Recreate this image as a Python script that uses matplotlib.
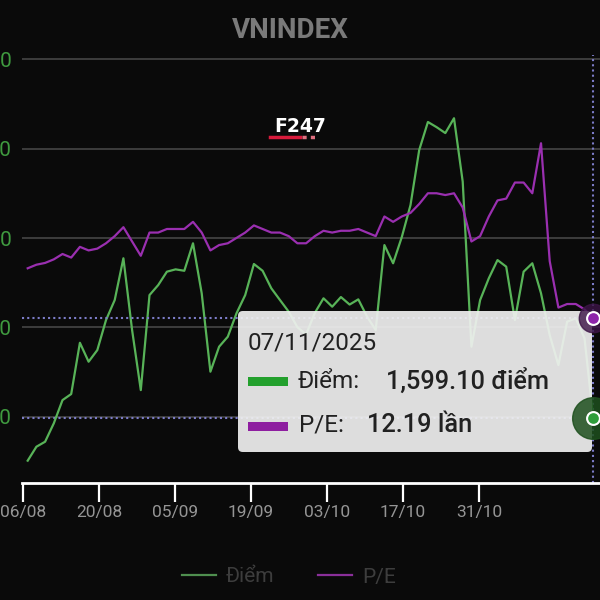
import numpy as np
import matplotlib.pyplot as plt
from matplotlib.patches import FancyBboxPatch, Rectangle
from matplotlib.lines import Line2D

plt.rcParams['font.family'] = ['Roboto', 'DejaVu Sans']

# data (one point per trading day, 06/08 -> 07/11/2025)
diem = [1575.3, 1583.1, 1585.9, 1596.2, 1609.2, 1612.6, 1641.3, 1630.7, 1637.2, 1654.0,
        1665.2, 1688.6, 1648.4, 1614.8, 1668.0, 1673.6, 1681.1, 1682.4, 1681.6, 1697.0,
        1669.0, 1625.1, 1639.1, 1644.7, 1657.8, 1668.0, 1685.4, 1681.6, 1671.8, 1665.2,
        1658.7, 1650.0, 1646.0, 1658.0, 1666.2, 1661.5, 1666.9, 1662.7, 1665.6, 1656.0,
        1648.4, 1696.0, 1685.8, 1700.5, 1718.4, 1749.2, 1764.9, 1762.0, 1758.7, 1767.0,
        1731.5, 1639.1, 1665.2, 1677.4, 1687.6, 1683.9, 1654.0, 1681.1, 1685.8, 1669.0,
        1645.6, 1628.8, 1653.1, 1655.0, 1643.8, 1599.1]
pe = [12.47, 12.49, 12.50, 12.52, 12.55, 12.53, 12.59, 12.57, 12.58, 12.61,
      12.65, 12.70, 12.62, 12.54, 12.67, 12.67, 12.69, 12.69, 12.69, 12.73,
      12.67, 12.57, 12.60, 12.61, 12.64, 12.67, 12.71, 12.69, 12.67, 12.67,
      12.65, 12.61, 12.61, 12.65, 12.68, 12.67, 12.68, 12.68, 12.69, 12.67,
      12.65, 12.76, 12.73, 12.76, 12.78, 12.83, 12.89, 12.89, 12.88, 12.89,
      12.81, 12.62, 12.65, 12.76, 12.85, 12.86, 12.95, 12.95, 12.89, 13.17,
      12.51, 12.25, 12.27, 12.27, 12.24, 12.19]
x_labels = ['06/08', '20/08', '05/09', '19/09', '03/10', '17/10', '31/10']
y_ticks = [1600, 1650, 1700, 1750, 1800]
sel_date = '07/11/2025'

W = H = 600
def fx(px):
    return px / W
def fy(py):
    return 1 - py / H

BG = '#0a0a0a'
GREEN = '#58b358'
PURPLE = '#9a2fb0'
CROSS = '#7c7cc8'

fig = plt.figure(figsize=(6, 6), dpi=100, facecolor=BG)
ax = fig.add_axes([fx(22), fy(483), 1 - fx(22), fy(55) - fy(483)])
ax.set_facecolor(BG)

x = np.arange(len(diem))
ax.plot(x, diem, color=GREEN, lw=1.6, zorder=3)
ax.set_xlim(-0.655, 65.78)
ax.set_ylim(1562.8, 1802.4)
ax.set_yticks(y_ticks)
ax.set_yticklabels(['{:,}'.format(v) for v in y_ticks])
ax.grid(axis='y', color='#454545', lw=1.2)
ax.set_axisbelow(True)
ax.tick_params(axis='y', length=0, pad=7.5, labelcolor='#3f9a3f', labelsize=15)
tick_pos = np.arange(len(x_labels)) * 8.74 - 0.55
ax.set_xticks(tick_pos)
ax.set_xticklabels(x_labels)
ax.tick_params(axis='x', length=14, width=1.6, color='white', labelcolor='#959595',
               labelsize=12.5, pad=2)
for s in ['top', 'left', 'right']:
    ax.spines[s].set_visible(False)
ax.spines['bottom'].set_color('white')
ax.spines['bottom'].set_linewidth(2)

# crosshair for the selected day
last = len(diem) - 1
ax.plot([-0.655, last], [diem[-1]] * 2, color=CROSS, lw=1.5, ls=(0, (1, 1.5)), zorder=2)
ax.axvline(last, color=CROSS, lw=1.5, ls=(0, (1, 1.5)), zorder=2)

ax2 = ax.twinx()
ax2.plot(x, pe, color=PURPLE, lw=1.6, zorder=3)
ax2.plot([-0.655, last], [pe[-1]] * 2, color=CROSS, lw=1.5, ls=(0, (1, 1.5)), zorder=2)
ax2.set_ylim(11.268, 13.664)
ax2.set_yticks([])
for s in ax2.spines.values():
    s.set_visible(False)

# tooltip box
tip = FancyBboxPatch((fx(238), fy(452)), fx(592) - fx(238), fy(311) - fy(452),
                     boxstyle='round,pad=0,rounding_size=0.008', transform=fig.transFigure,
                     facecolor='#f0f0f0', edgecolor='none', alpha=0.92, zorder=10)
ax2.add_patch(tip)

# markers with halos
ax2.scatter([last], [diem[-1]], transform=ax.transData, s=900, color='#1d4f1d', alpha=0.85,
            zorder=11, clip_on=False)
ax2.scatter([last], [pe[-1]], s=420, color='#3c1446', alpha=0.8, zorder=11, clip_on=False)
ax2.scatter([last], [diem[-1]], transform=ax.transData, s=85, color='#2e9e3a',
            edgecolors='white', linewidths=1.5, zorder=12, clip_on=False)
ax2.scatter([last], [pe[-1]], s=85, color='#8e24aa', edgecolors='white', linewidths=1.5,
            zorder=12, clip_on=False)

# tooltip text
txt = '#212121'
fig.text(fx(248), fy(343), sel_date, ha='left', va='center', fontsize=17.5, color=txt)
fig.add_artist(Rectangle((fx(248), fy(386)), fx(40), fx(9), transform=fig.transFigure,
                         facecolor='#23a02d', edgecolor='none'))
fig.add_artist(Rectangle((fx(248), fy(431)), fx(40), fx(9), transform=fig.transFigure,
                         facecolor='#8e1ea0', edgecolor='none'))
fig.text(fx(298), fy(381.5), 'Điểm:', ha='left', va='center', fontsize=17.5, color=txt)
fig.text(fx(386), fy(381.5), '{:,.2f} điểm'.format(diem[-1]), ha='left', va='center',
         fontsize=18.3, color=txt, fontweight='medium')
fig.text(fx(299), fy(425), 'P/E:', ha='left', va='center', fontsize=17.5, color=txt)
fig.text(fx(367), fy(425), '{:.2f} lần'.format(pe[-1]), ha='left', va='center',
         fontsize=18.3, color=txt, fontweight='medium')

# title and watermark
fig.text(fx(290), fy(31), 'VNINDEX', ha='center', va='center', fontsize=20,
         fontweight='bold', color='#7a7a7a')
fig.text(fx(300), fy(127), 'F247', ha='center', va='center', fontsize=13.5,
         fontweight='bold', color='white', family='DejaVu Sans')
fig.add_artist(Line2D([fx(270), fx(300)], [fy(137)] * 2, color='#d81b3c', lw=2.5))
fig.add_artist(Line2D([fx(302), fx(318)], [fy(137)] * 2, color='#e07080', lw=2.5,
                      ls=(0, (1.2, 1.2))))

# legend
handles = [Line2D([], [], color='#4f8f4f', lw=1.6), Line2D([], [], color='#8a2f9a', lw=1.6)]
fig.legend(handles, ['Điểm', 'P/E'], loc='center', bbox_to_anchor=(fx(289), fy(577)),
           ncol=2, frameon=False, labelcolor='#3d3d3d', fontsize=15, handlelength=1.6,
           handletextpad=0.5, columnspacing=2.1)

fig.savefig('out.png', dpi=100, facecolor=fig.get_facecolor())
